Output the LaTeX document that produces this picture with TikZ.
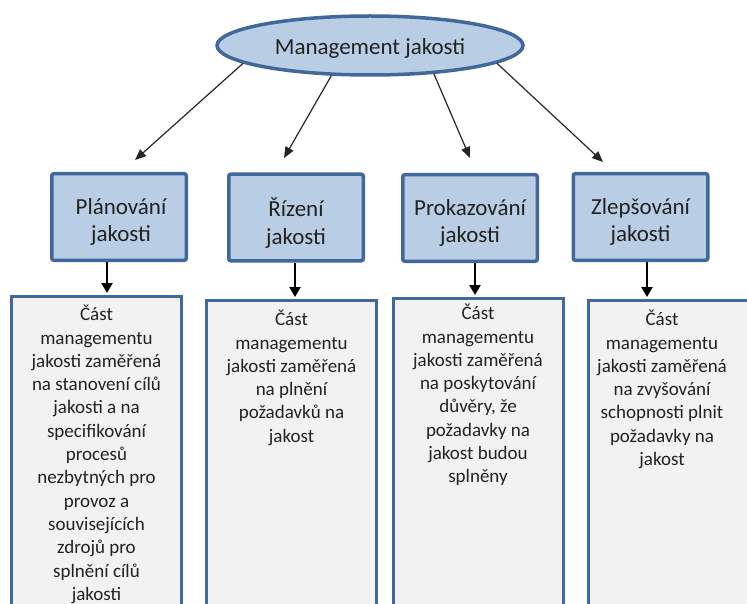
\documentclass[tikz,border=0pt]{standalone}
\usepackage{fontspec}
\setmainfont{Carlito}
\usetikzlibrary{shapes.geometric,arrows.meta}
\definecolor{hdrfill}{HTML}{B9CDE5}
\definecolor{hdrline}{HTML}{41689A}
\definecolor{bodyfill}{HTML}{F2F2F2}
\definecolor{bodyline}{HTML}{3F6A9B}
\definecolor{textc}{HTML}{222222}
\begin{document}
\begin{tikzpicture}[x=1pt,y=-1pt,
  topnode/.style={ellipse, draw=hdrline, line width=3.5pt, fill=hdrfill,
    minimum width=306pt, minimum height=59pt, inner sep=0pt},
  toptext/.style={inner sep=0pt, text=textc, font=\fontsize{23}{27}\selectfont},
  hdr/.style={rectangle, draw=hdrline, line width=3.5pt, fill=hdrfill,
    minimum width=134.5pt, minimum height=86.5pt, rounded corners=2pt, inner sep=0pt},
  hdrtext/.style={inner sep=0pt, align=center, text=textc,
    font=\fontsize{23}{27.5}\selectfont},
  bodybox/.style={rectangle, draw=bodyline, line width=3pt, fill=bodyfill,
    minimum width=170pt, minimum height=400pt, anchor=north, inner sep=0pt},
  bodytext/.style={anchor=north, align=center, inner sep=0pt, text=textc,
    font=\fontsize{19}{23.3}\selectfont},
  thin/.style={draw=black!85, line width=1.2pt, -{Triangle[length=11pt,width=9pt]}},
  thick/.style={draw=black, line width=2.4pt, -{Triangle[length=10pt,width=11pt]}}
]
\useasboundingbox (0,0) rectangle (747,604);
\clip (0,0) rectangle (747,604);

% top ellipse
\node[topnode] (mg) at (370,45.5) {};
\node[toptext] (mgt) at (370,48) {Management jakosti};

% four headings
\node[hdr] (h1) at (119,217) {};
\node[hdr] (h2) at (296,217.5) {};
\node[hdr] (h3) at (470,218) {};
\node[hdr] (h4) at (640.5,217) {};
\node[hdrtext] (h1t) at (121,222) {Plánování\\jakosti};
\node[hdrtext] (h2t) at (296,223) {Řízení\\jakosti};
\node[hdrtext] (h3t) at (470,223) {Prokazování\\jakosti};
\node[hdrtext] (h4t) at (640.5,222) {Zlepšování\\jakosti};

% description boxes (running past the lower edge)
\node[bodybox] (b1) at (96.5,294.5) {};
\node[bodybox] (b2) at (291.5,298.5) {};
\node[bodybox] (b3) at (478,296.5) {};
\node[bodybox] (b4) at (673,298.5) {};

\node[bodytext] (t1) at (96.5,305) {Část\\managementu\\jakosti zaměřená\\na stanovení cílů\\jakosti a na\\specifikování\\procesů\\nezbytných pro\\provoz a\\souvisejících\\zdrojů pro\\splnění cílů\\jakosti};
\node[bodytext] (t2) at (291.5,310) {Část\\managementu\\jakosti zaměřená\\na plnění\\požadavků na\\jakost};
\node[bodytext] (t3) at (478,304) {Část\\managementu\\jakosti zaměřená\\na poskytování\\důvěry, že\\požadavky na\\jakost budou\\splněny};
\node[bodytext] (t4) at (662,310) {Část\\managementu\\jakosti zaměřená\\na zvyšování\\schopnosti plnit\\požadavky na\\jakost};

% arrows from the ellipse to the headings
\coordinate (e1) at (135,160);
\coordinate (e2) at (284,158);
\coordinate (e3) at (470,158);
\coordinate (e4) at (603,162);
\draw[thin] (mg.188.7) -- (e1);
\draw[thin] (mg.218) -- (e2);
\draw[thin] (mg.336) -- (e3);
\draw[thin] (mg.352) -- (e4);

% arrows from the headings to the descriptions
\coordinate (d1) at (107,293);
\coordinate (d2) at (295,297);
\coordinate (d3) at (475,295);
\coordinate (d4) at (647,297);
\draw[thick] (h1.south -| d1) -- (d1);
\draw[thick] (h2.south -| d2) -- (d2);
\draw[thick] (h3.south -| d3) -- (d3);
\draw[thick] (h4.south -| d4) -- (d4);
\end{tikzpicture}
\end{document}
